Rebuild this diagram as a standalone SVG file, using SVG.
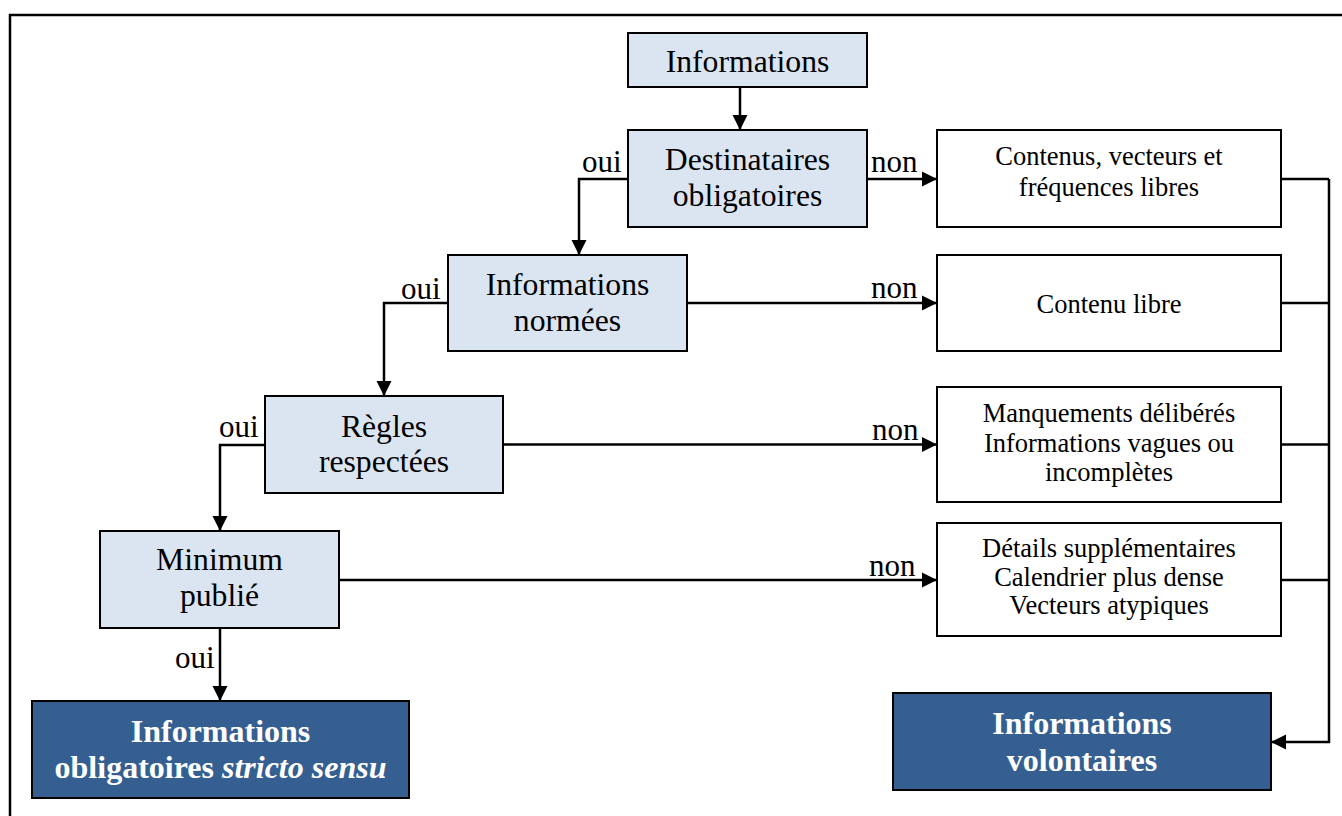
<svg xmlns="http://www.w3.org/2000/svg" width="1342" height="816" viewBox="0 0 1342 816">
<defs>
<style>
.q{fill:#DBE5F1;stroke:#000;stroke-width:2}
.w{fill:#fff;stroke:#000;stroke-width:2}
.b{fill:#365F91;stroke:#000;stroke-width:2}
.t{font-family:"Liberation Serif","Times New Roman",serif;font-size:31.7px;fill:#000;text-anchor:middle}
.s{font-family:"Liberation Serif","Times New Roman",serif;font-size:26.5px;fill:#000;text-anchor:middle}
.h{font-family:"Liberation Serif","Times New Roman",serif;font-size:32px;font-weight:bold;fill:#fff;text-anchor:middle}
.l{font-family:"Liberation Serif","Times New Roman",serif;font-size:31px;fill:#000}
.c{fill:none;stroke:#000;stroke-width:2.5}
</style>
<marker id="a" markerUnits="userSpaceOnUse" markerWidth="16" markerHeight="16" viewBox="0 0 16 16" refX="15" refY="8" orient="auto">
<path d="M0,0.5 L15,8 L0,15.5 Z" fill="#000"/>
</marker>
</defs>
<rect width="1342" height="816" fill="#fff"/>
<path d="M10,830 V15 H1360" fill="none" stroke="#000" stroke-width="2.5"/>
<g id="connectors">
<path class="c" d="M740,87 V130" marker-end="url(#a)"/>
<path class="c" d="M628,179 H579 V255" marker-end="url(#a)"/>
<path class="c" d="M867,179 H937" marker-end="url(#a)"/>
<path class="c" d="M448,303 H384 V396" marker-end="url(#a)"/>
<path class="c" d="M687,303 H937" marker-end="url(#a)"/>
<path class="c" d="M265,445 H220 V531" marker-end="url(#a)"/>
<path class="c" d="M503,444.5 H937" marker-end="url(#a)"/>
<path class="c" d="M339,580 H937" marker-end="url(#a)"/>
<path class="c" d="M220,628 V701" marker-end="url(#a)"/>
<path class="c" d="M1281,179 H1329"/>
<path class="c" d="M1281,303 H1329"/>
<path class="c" d="M1281,444.5 H1329"/>
<path class="c" d="M1281,580 H1329"/>
<path class="c" d="M1329,179 V742 H1271" stroke-width="3" marker-end="url(#a)"/>
<text class="l" x="582" y="172">oui</text>
<text class="l" x="871" y="172">non</text>
<text class="l" x="401" y="299">oui</text>
<text class="l" x="871" y="298">non</text>
<text class="l" x="219" y="437">oui</text>
<text class="l" x="872" y="440">non</text>
<text class="l" x="869" y="576">non</text>
<text class="l" x="175" y="668">oui</text>
</g>
<g id="n-informations">
<rect class="q" x="628" y="33" width="239" height="54"/>
<text class="t" x="747.5" y="72">Informations</text>
</g>
<g id="n-destinataires">
<rect class="q" x="628" y="130" width="239" height="97"/>
<text class="t" x="747.5" y="170">Destinataires</text>
<text class="t" x="747.5" y="206">obligatoires</text>
</g>
<g id="n-normees">
<rect class="q" x="448" y="255" width="239" height="96"/>
<text class="t" x="567.5" y="295">Informations</text>
<text class="t" x="567.5" y="331">normées</text>
</g>
<g id="n-regles">
<rect class="q" x="265" y="396" width="238" height="97"/>
<text class="t" x="384" y="437">Règles</text>
<text class="t" x="384" y="472">respectées</text>
</g>
<g id="n-minimum">
<rect class="q" x="100" y="531" width="239" height="97"/>
<text class="t" x="219.5" y="570">Minimum</text>
<text class="t" x="219.5" y="606">publié</text>
</g>
<g id="n-obligatoires">
<rect class="b" x="32" y="701" width="377" height="97"/>
<text class="h" x="220.5" y="742">Informations</text>
<text class="h" x="220.5" y="778">obligatoires <tspan font-style="italic">stricto sensu</tspan></text>
</g>
<g id="n-contenus">
<rect class="w" x="937" y="130" width="344" height="97"/>
<text class="s" x="1109" y="165">Contenus, vecteurs et</text>
<text class="s" x="1109" y="196">fréquences libres</text>
</g>
<g id="n-contenu-libre">
<rect class="w" x="937" y="255" width="344" height="96"/>
<text class="s" x="1109" y="313">Contenu libre</text>
</g>
<g id="n-manquements">
<rect class="w" x="937" y="387" width="344" height="115"/>
<text class="s" x="1109" y="422">Manquements délibérés</text>
<text class="s" x="1109" y="452">Informations vagues ou</text>
<text class="s" x="1109" y="481">incomplètes</text>
</g>
<g id="n-details">
<rect class="w" x="937" y="523" width="344" height="113"/>
<text class="s" x="1109" y="557">Détails supplémentaires</text>
<text class="s" x="1109" y="586">Calendrier plus dense</text>
<text class="s" x="1109" y="614">Vecteurs atypiques</text>
</g>
<g id="n-volontaires">
<rect class="b" x="893" y="693" width="378" height="97"/>
<text class="h" x="1082" y="734">Informations</text>
<text class="h" x="1082" y="771">volontaires</text>
</g>
</svg>
